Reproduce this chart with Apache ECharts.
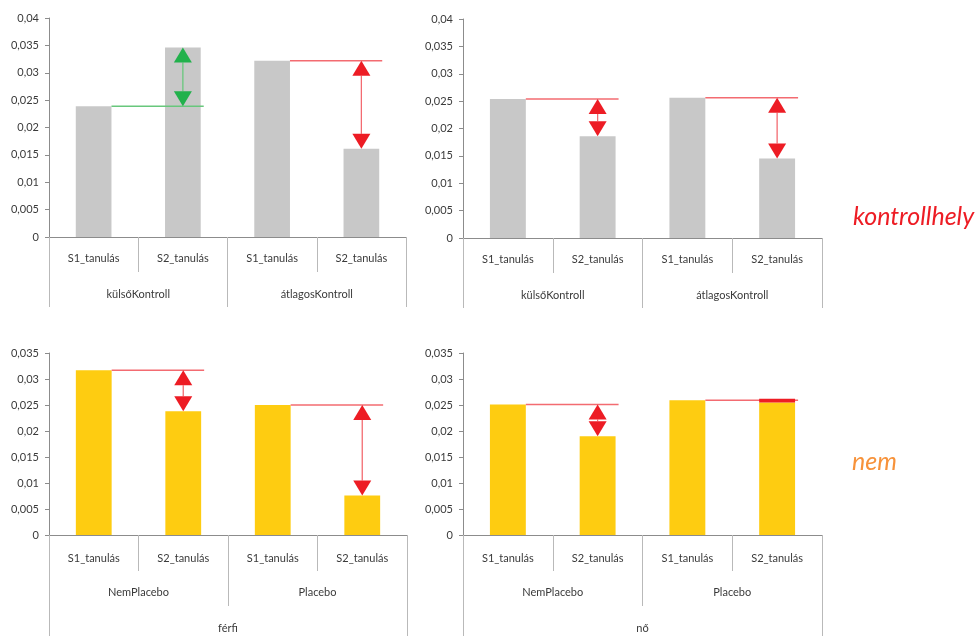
<!DOCTYPE html>
<html>
<head>
<meta charset="utf-8">
<style>
  html, body { margin: 0; padding: 0; background: #ffffff; }
  #chart { width: 980px; height: 636px; }
</style>
<script src="https://cdn.jsdelivr.net/npm/echarts@6/dist/echarts.min.js"></script>
</head>
<body>
<div id="chart"></div>
<script>
// Category levels
const tanulasCats = ['S1_tanulás', 'S2_tanulás', 'S1_tanulás', 'S2_tanulás'];
const kontrollGroups = ['külsőKontroll', 'átlagosKontroll'];
const placeboGroups = ['NemPlacebo', 'Placebo'];
const ferfiGroup = ['férfi'];
const noGroup = ['nő'];

// Bar values (S1, S2 per group)
const kontrollLeftValues = [0.0239, 0.0346, 0.0322, 0.0161];
const kontrollRightValues = [0.0254, 0.0186, 0.0256, 0.0145];
const ferfiValues = [0.0317, 0.0238, 0.0250, 0.0076];
const noValues = [0.0251, 0.0190, 0.0259, 0.0255];

// Value-axis ranges
const kontrollMax = 0.04;
const nemMax = 0.035;
const tickStep = 0.005;

// Side captions
const sideLabels = ['kontrollhely', 'nem'];

const GRAY = '#c8c8c8';
const YELLOW = '#fecc11';
const RED = '#ed1c24';
const RED_LIGHT = '#f36b71';
const GREEN = '#22b14c';
const GREEN_LIGHT = '#68c77c';
const AXIS = '#8c8c8c';
const SEP = '#b9b9b9';
const TEXT = '#3a3a3a';
const FONT = 'Lato, "Liberation Sans", sans-serif';
const BAR_RATIO = 0.4;

const panels = [
  { values: kontrollLeftValues, max: kontrollMax, color: GRAY, levels: [tanulasCats, kontrollGroups],
    grid: { left: 49, top: 18, width: 357, height: 219 } },
  { values: kontrollRightValues, max: kontrollMax, color: GRAY, levels: [tanulasCats, kontrollGroups],
    grid: { left: 463, top: 19, width: 359, height: 219 } },
  { values: ferfiValues, max: nemMax, color: YELLOW, levels: [tanulasCats, placeboGroups, ferfiGroup],
    grid: { left: 49, top: 353, width: 358, height: 182 } },
  { values: noValues, max: nemMax, color: YELLOW, levels: [tanulasCats, placeboGroups, noGroup],
    grid: { left: 463, top: 353, width: 359, height: 182 } }
];

function fmt(v) {
  return String(parseFloat(v.toFixed(3))).replace('.', ',');
}

// Level layout: label margin and separator length below the axis line
function levelStyle(levelIdx, levelCount) {
  if (levelCount === 2) {
    return [{ margin: 16, tick: 35 }, { margin: 52, tick: 70 }][levelIdx];
  }
  return [{ margin: 18, tick: 36 }, { margin: 52, tick: 71 }, { margin: 88, tick: 120 }][levelIdx];
}

// Reference line from the S1 bar plus a double-headed arrow down/up to the S2 bar
function renderDiff(params, api) {
  const i1 = api.value(0), i2 = api.value(1);
  const v1 = api.value(2), v2 = api.value(3);
  const band = api.size([1, 0])[0];
  const bw = band * BAR_RATIO;
  const p1 = api.coord([i1, v1]);
  const p2 = api.coord([i2, v2]);
  const lineY = p1[1];
  const x = p2[0];
  const rising = v2 > v1;
  const head = rising ? GREEN : RED;
  const light = rising ? GREEN_LIGHT : RED_LIGHT;
  const children = [{
    type: 'line',
    shape: { x1: p1[0] + bw / 2, y1: lineY, x2: p2[0] + bw / 2 + 3, y2: lineY },
    style: { stroke: light, lineWidth: 1.5 }
  }];
  const top = Math.min(lineY, p2[1]);
  const bot = Math.max(lineY, p2[1]);
  const d = bot - top;
  if (d < 6) {
    children.push({
      type: 'rect',
      shape: { x: x - bw / 2, y: top - 1.5, width: bw, height: Math.max(d + 1.5, 3.5) },
      style: { fill: head }
    });
  } else {
    const h = Math.min(15, d / 2 - 0.6);
    const w = 18;
    if (bot - h > top + h + 1) {
      children.push({
        type: 'line',
        shape: { x1: x, y1: top + h, x2: x, y2: bot - h },
        style: { stroke: light, lineWidth: 1.3 }
      });
    }
    children.push({
      type: 'polygon',
      shape: { points: [[x, top], [x - w / 2, top + h], [x + w / 2, top + h]] },
      style: { fill: head }
    });
    children.push({
      type: 'polygon',
      shape: { points: [[x, bot], [x - w / 2, bot - h], [x + w / 2, bot - h]] },
      style: { fill: head }
    });
  }
  return { type: 'group', children };
}

const grid = [], xAxis = [], yAxis = [], series = [];

panels.forEach((p, gi) => {
  grid.push(Object.assign({ containLabel: false }, p.grid));
  yAxis.push({
    type: 'value', gridIndex: gi, min: 0, max: p.max, interval: tickStep,
    axisLine: { show: true, lineStyle: { color: AXIS, width: 1 } },
    axisTick: { show: true, length: 4, lineStyle: { color: AXIS } },
    splitLine: { show: false },
    axisLabel: { formatter: fmt, color: TEXT, fontSize: 11, fontFamily: FONT, margin: 10 }
  });
  const firstX = xAxis.length;
  p.levels.forEach((cats, li) => {
    const st = levelStyle(li, p.levels.length);
    xAxis.push({
      type: 'category', gridIndex: gi, position: 'bottom', data: cats,
      axisLine: { show: li === 0, onZero: li === 0, lineStyle: { color: AXIS, width: 1 } },
      axisTick: { show: true, interval: 0, length: st.tick, lineStyle: { color: SEP, width: 1 } },
      axisLabel: { interval: 0, margin: st.margin, color: TEXT, fontSize: 11, fontFamily: FONT },
      splitLine: { show: false }
    });
  });
  series.push({
    type: 'bar', xAxisIndex: firstX, yAxisIndex: gi,
    data: p.values, barWidth: (BAR_RATIO * 100) + '%',
    itemStyle: { color: p.color }, silent: true
  });
  const pairs = [];
  for (let g = 0; g < p.values.length / 2; g++) {
    pairs.push([2 * g, 2 * g + 1, p.values[2 * g], p.values[2 * g + 1]]);
  }
  series.push({
    type: 'custom', xAxisIndex: firstX, yAxisIndex: gi,
    data: pairs, encode: { x: [0, 1], y: [2, 3] },
    renderItem: renderDiff, clip: false, z: 5, silent: true
  });
});

const option = {
  backgroundColor: '#ffffff',
  animation: false,
  grid, xAxis, yAxis, series,
  graphic: [
    { type: 'text', left: 853, top: 204,
      style: { text: sideLabels[0], fill: RED, fontSize: 25, fontStyle: 'italic', fontFamily: FONT } },
    { type: 'text', left: 852, top: 449,
      style: { text: sideLabels[1], fill: '#f7923a', fontSize: 25, fontStyle: 'italic', fontFamily: FONT } }
  ]
};

const chart = echarts.init(document.getElementById('chart'), null, { renderer: 'canvas' });
chart.setOption(option);
</script>
</body>
</html>
